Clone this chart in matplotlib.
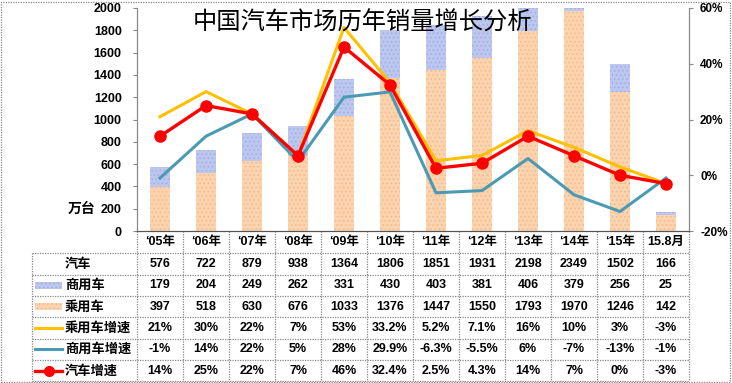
import matplotlib
matplotlib.use("Agg")
import matplotlib.pyplot as plt
from matplotlib.patches import Rectangle
from matplotlib.lines import Line2D

plt.rcParams['font.family'] = ['Liberation Sans', 'Noto Sans CJK SC', 'DejaVu Sans']
plt.rcParams['hatch.linewidth'] = 0.6

# data
years = ["‘05年", "‘06年", "‘07年", "‘08年", "‘09年", "‘10年", "‘11年",
         "‘12年", "‘13年", "‘14年", "‘15年", "15.8月"]
total = [576, 722, 879, 938, 1364, 1806, 1851, 1931, 2198, 2349, 1502, 166]
commercial = [179, 204, 249, 262, 331, 430, 403, 381, 406, 379, 256, 25]
passenger = [397, 518, 630, 676, 1033, 1376, 1447, 1550, 1793, 1970, 1246, 142]
passenger_growth = [21, 30, 22, 7, 53, 33.2, 5.2, 7.1, 16, 10, 3, -3]
commercial_growth = [-1, 14, 22, 5, 28, 29.9, -6.3, -5.5, 6, -7, -13, -1]
total_growth = [14, 25, 22, 7, 46, 32.4, 2.5, 4.3, 14, 7, 0, -3]

def pct(v):
    s = "%g" % v
    return s + "%"

c_pass = '#FBD3AE'
c_pass_h = '#F4B988'
c_comm = '#BCC6EE'
c_comm_h = '#9EB0E2'
c_yel = '#FFC000'
c_teal = '#4B9AB4'
c_red = '#FF0000'
grid_c = '#888888'

W, H = 732, 383
fig = plt.figure(figsize=(W / 100, H / 100), dpi=100)
L, R, T, B = 137, 689, 8, 231
ax = fig.add_axes([L / W, 1 - B / H, (R - L) / W, (B - T) / H])
ax2 = ax.twinx()

x = list(range(len(years)))
ax.bar(x, passenger, width=0.42, color=c_pass, edgecolor=c_pass_h, linewidth=0,
       hatch='....', zorder=2)
ax.bar(x, commercial, width=0.42, bottom=passenger, color=c_comm, edgecolor=c_comm_h,
       linewidth=0, hatch='....', zorder=2)
ax.set_xlim(-0.5, len(years) - 0.5)
ax.set_ylim(0, 2000)
ax.set_yticks(range(0, 2001, 200))
ax.set_xticks([])

ax2.plot(x, passenger_growth, color=c_yel, lw=2.2, zorder=3)
ax2.plot(x, commercial_growth, color=c_teal, lw=2.2, zorder=4)
ax2.plot(x, total_growth, color=c_red, lw=2.4, marker='o', markersize=8, zorder=5)
ax2.set_ylim(-20, 60)
ax2.set_yticks(range(-20, 61, 20))
ax2.set_yticklabels(["%d%%" % v for v in range(-20, 61, 20)])

for a in (ax, ax2):
    a.spines['top'].set_visible(False)
    a.spines['bottom'].set_color('#555555')
    a.spines['left'].set_color(grid_c)
    a.spines['left'].set_linestyle((0, (1, 1)))
    a.spines['right'].set_color(grid_c)
    a.spines['right'].set_linestyle((0, (1, 1)))
    a.tick_params(axis='y', length=3, color=grid_c, labelsize=9, pad=8)
    for lab in a.get_yticklabels():
        lab.set_fontweight('bold')
ax2.tick_params(axis='y', pad=5, labelsize=8.5)

fig.text(82 / W, 1 - 209 / H, "万台", fontsize=10, fontweight='bold',
         ha='center', va='center')
fig.text(362 / W, 1 - 23 / H, "中国汽车市场历年销量增长分析", fontsize=17.5,
         ha='center', va='center', zorder=10, fontweight='medium',
         family=['Noto Sans CJK SC'])

# table under the chart
tr = ax.get_xaxis_transform()
ph = B - T
def fy(py):
    return (B - py) / ph

cw = (R - L) / len(years)
def fx(px):
    return -0.5 + (px - L) / cw

rows_y = [231, 253, 274.5, 296, 317, 338.5, 360, 381]
lab_left = fx(32)
right = len(years) - 0.5
lkw = dict(color=grid_c, lw=0.9, linestyle=(0, (1, 1)), transform=tr, clip_on=False)

for yy in rows_y[1:]:
    ax.add_line(Line2D([lab_left, right], [fy(yy), fy(yy)], **lkw))
ax.add_line(Line2D([lab_left, lab_left], [fy(rows_y[1]), fy(rows_y[-1])], **lkw))
for i in range(len(years) + 1):
    xx = i - 0.5
    ax.add_line(Line2D([xx, xx], [0, fy(rows_y[-1])], **lkw))
for i, lab in enumerate(years):
    ax.text(i, fy((rows_y[0] + rows_y[1]) / 2), lab, transform=tr, ha='center',
            va='center', fontsize=9, fontweight='bold', clip_on=False)

table_rows = [
    ("汽车", [str(v) for v in total]),
    ("商用车", [str(v) for v in commercial]),
    ("乘用车", [str(v) for v in passenger]),
    ("乘用车增速", [pct(v) for v in passenger_growth]),
    ("商用车增速", [pct(v) for v in commercial_growth]),
    ("汽车增速", [pct(v) for v in total_growth]),
]
k0, k1 = fx(35), fx(62)
for r, (name, cells) in enumerate(table_rows):
    yc = fy((rows_y[r + 1] + rows_y[r + 2]) / 2)
    ax.text(fx(65), yc, name, transform=tr, ha='left', va='center', fontsize=9.5,
            fontweight='bold', clip_on=False, family=['Noto Sans CJK SC'])
    for i, s in enumerate(cells):
        ax.text(i, yc, s, transform=tr, ha='center', va='center', fontsize=9,
                fontweight='bold', clip_on=False)
    if name == "商用车" or name == "乘用车":
        fc, hc = (c_comm, c_comm_h) if name == "商用车" else (c_pass, c_pass_h)
        ax.add_patch(Rectangle((k0, yc - 3.5 / ph), k1 - k0, 7 / ph, transform=tr,
                               facecolor=fc, edgecolor=hc, linewidth=0, hatch='....',
                               clip_on=False))
    elif name == "乘用车增速":
        ax.add_line(Line2D([k0, k1], [yc, yc], color=c_yel, lw=2.2, transform=tr,
                           clip_on=False))
    elif name == "商用车增速":
        ax.add_line(Line2D([k0, k1], [yc, yc], color=c_teal, lw=2.2, transform=tr,
                           clip_on=False))
    elif name == "汽车增速":
        ax.add_line(Line2D([k0, k1], [yc, yc], color=c_red, lw=2.4, transform=tr,
                           clip_on=False))
        ax.add_line(Line2D([(k0 + k1) / 2], [yc], color=c_red, marker='o',
                           markersize=7, transform=tr, clip_on=False))

# chart area border
fig.add_artist(Rectangle((0.002, 0.003), 0.995, 0.993, transform=fig.transFigure,
                         fill=False, edgecolor=grid_c, lw=0.9, linestyle=(0, (1, 1))))

fig.savefig("out.png", dpi=100)
